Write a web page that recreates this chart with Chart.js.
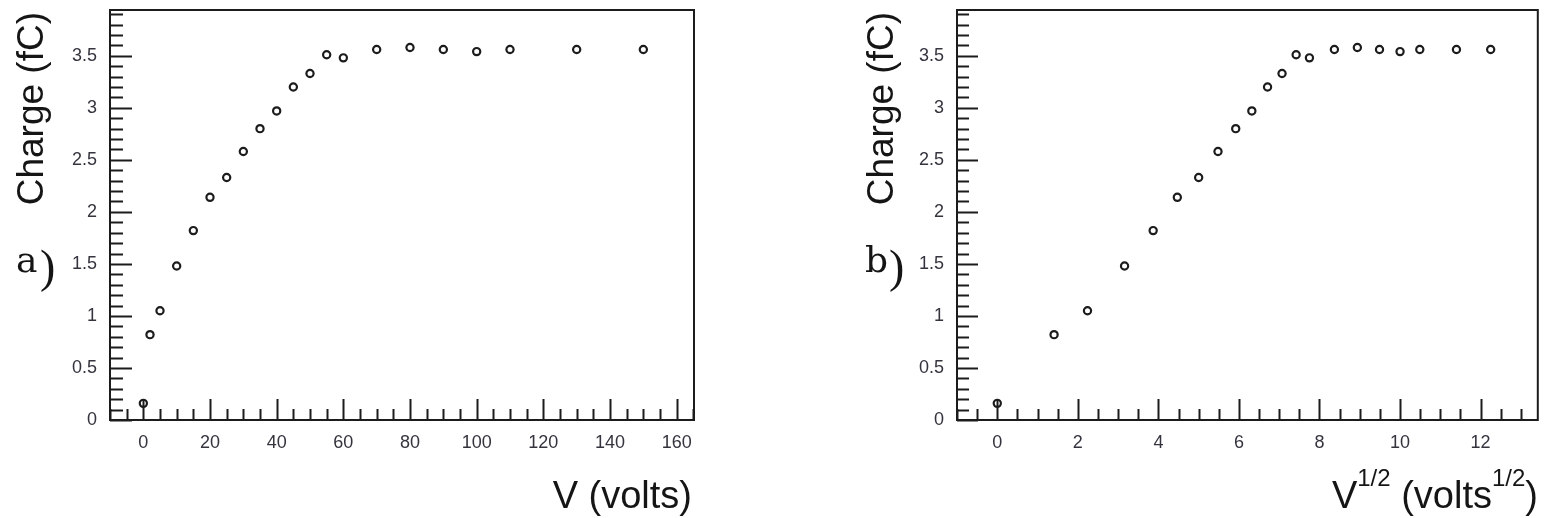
<!DOCTYPE html>
<html>
<head>
<meta charset="utf-8">
<script src="https://cdn.jsdelivr.net/npm/chart.js@4"></script>
<style>
  html, body { margin: 0; padding: 0; background: #fff; }
  #wrap { position: relative; width: 1544px; height: 518px; }
  canvas { position: absolute; top: 0; }
</style>
</head>
<body>
<div id="wrap">
  <canvas id="chartV" width="772" height="518" style="left:0;width:772px;height:518px"></canvas>
  <canvas id="chartSqrtV" width="772" height="518" style="left:772px;width:772px;height:518px"></canvas>
</div>
<script>
// measured points: bias voltage, its square root, collected charge
const voltages = [0, 2, 5, 10, 15, 20, 25, 30, 35, 40, 45, 50, 55, 60, 70, 80, 90, 100, 110, 130, 150]
const sqrtVoltages = [0, 1.41, 2.24, 3.16, 3.87, 4.47, 5.0, 5.48, 5.92, 6.32, 6.71, 7.07, 7.42, 7.75, 8.37, 8.94, 9.49, 10.0, 10.49, 11.40, 12.25]
const charge = [0.16, 0.82, 1.05, 1.48, 1.82, 2.14, 2.33, 2.58, 2.80, 2.97, 3.20, 3.33, 3.51, 3.48, 3.56, 3.58, 3.56, 3.54, 3.56, 3.56, 3.56]

// axis ticks
const chargeTicks = [0, 0.5, 1, 1.5, 2, 2.5, 3, 3.5]
const voltTicks = [0, 20, 40, 60, 80, 100, 120, 140, 160]
const sqrtVoltTicks = [0, 2, 4, 6, 8, 10, 12]

const INK = '#1c1c1c'
const LABEL = '#34343e'
const SANS = '"Liberation Sans", Arial, Helvetica, sans-serif'

// frame box plus inward major/minor ticks, ROOT style
const frameTicks = {
    id: 'frameTicks',
    afterDatasetsDraw(chart, args, opts) {
        const { ctx, chartArea: a, scales } = chart
        const x = scales.x
        const y = scales.y
        ctx.save()
        ctx.strokeStyle = INK
        ctx.lineWidth = 2
        ctx.beginPath()

        const isMajor = (v, list) => list.some((m) => Math.abs(m - v) < 1e-6)

        for (let i = Math.ceil(y.min / opts.yMinor); i * opts.yMinor <= y.max + 1e-9; i++) {
            const v = i * opts.yMinor
            const py = Math.round(y.getPixelForValue(v)) + 0.5
            const len = isMajor(v, chargeTicks) ? opts.yMajorLen : opts.yMinorLen
            ctx.moveTo(a.left, py)
            ctx.lineTo(a.left + len, py)
        }
        for (let i = Math.ceil(x.min / opts.xMinor); i * opts.xMinor <= x.max + 1e-9; i++) {
            const v = i * opts.xMinor
            const px = Math.round(x.getPixelForValue(v)) + 0.5
            const len = isMajor(v, opts.xMajors) ? opts.xMajorLen : opts.xMinorLen
            ctx.moveTo(px, a.bottom)
            ctx.lineTo(px, a.bottom - len)
        }
        ctx.stroke()
        ctx.strokeRect(a.left, a.top, a.right - a.left, a.bottom - a.top)
        ctx.restore()
    }
}

// axis titles and the panel letter
const panelText = {
    id: 'panelText',
    afterDraw(chart, args, opts) {
        const ctx = chart.ctx
        ctx.save()
        ctx.fillStyle = '#151515'

        // y title, rotated, ending at the top of the frame
        ctx.save()
        ctx.translate(opts.yTitleX, 12)
        ctx.rotate(-Math.PI / 2)
        ctx.font = '37px ' + SANS
        ctx.textAlign = 'right'
        ctx.textBaseline = 'alphabetic'
        ctx.fillText('Charge (fC)', 0, 0)
        ctx.restore()

        // x title, right aligned, with optional superscripts
        ctx.textBaseline = 'alphabetic'
        ctx.textAlign = 'left'
        const parts = opts.xTitle
        let total = 0
        parts.forEach((p) => {
            ctx.font = (p.sup ? '24px ' : '38px ') + SANS
            p.w = ctx.measureText(p.text).width
            total += p.w
        })
        let cx = opts.xTitleRight - total
        parts.forEach((p) => {
            ctx.font = (p.sup ? '24px ' : '38px ') + SANS
            ctx.fillText(p.text, cx, p.sup ? 486 : 508)
            cx += p.w
        })

        // panel letter
        ctx.font = '36px "DejaVu Serif", serif'
        ctx.fillText(opts.letter, opts.letterX, 272)
        ctx.font = '46px "Liberation Serif", serif'
        ctx.fillText(')', opts.letterX + 24, 282)
        ctx.restore()
    }
}

const makeChart = (id, xs, xMin, xMax, xTickList, layout, extra) => {
    const ctx = document.getElementById(id).getContext('2d')
    return new Chart(ctx, {
        type: 'scatter',
        data: {
            datasets: [{
                data: xs.map((v, i) => ({ x: v, y: charge[i] })),
                pointStyle: 'circle',
                pointRadius: 3.6,
                pointBorderWidth: 2.2,
                borderColor: INK,
                backgroundColor: 'rgba(0,0,0,0)',
                showLine: false
            }]
        },
        options: {
            responsive: false,
            animation: false,
            events: [],
            layout: { padding: { top: 10, left: 0, bottom: 0, right: layout.right } },
            plugins: {
                legend: { display: false },
                tooltip: { enabled: false },
                frameTicks: extra.ticks,
                panelText: extra.text
            },
            scales: {
                x: {
                    type: 'linear',
                    min: xMin,
                    max: xMax,
                    grid: { display: false, drawTicks: false },
                    border: { display: false },
                    afterBuildTicks: (s) => { s.ticks = xTickList.map((v) => ({ value: v })) },
                    afterFit: (s) => { s.height = 98; s.paddingLeft = 0; s.paddingRight = 0 },
                    ticks: {
                        font: { family: SANS, size: 18 },
                        color: LABEL,
                        padding: 12,
                        maxRotation: 0,
                        autoSkip: false,
                        callback: (v) => String(v)
                    }
                },
                y: {
                    type: 'linear',
                    min: 0,
                    max: 3.94,
                    grid: { display: false, drawTicks: false },
                    border: { display: false },
                    afterBuildTicks: (s) => { s.ticks = chargeTicks.map((v) => ({ value: v })) },
                    afterFit: (s) => { s.width = layout.yWidth; s.paddingTop = 0; s.paddingBottom = 0 },
                    ticks: {
                        font: { family: SANS, size: 18 },
                        color: LABEL,
                        padding: 13,
                        autoSkip: false,
                        callback: (v) => String(v)
                    }
                }
            }
        },
        plugins: [frameTicks, panelText]
    })
}

makeChart('chartV', voltages, -10, 165.2, voltTicks, { right: 78, yWidth: 110 }, {
    ticks: { xMinor: 5, xMajors: voltTicks, yMinor: 0.1, xMajorLen: 21, xMinorLen: 11, yMajorLen: 22, yMinorLen: 13 },
    text: {
        yTitleX: 43,
        xTitleRight: 692,
        xTitle: [{ text: 'V (volts)' }],
        letter: 'a',
        letterX: 16
    }
})

makeChart('chartSqrtV', sqrtVoltages, -1, 13.42, sqrtVoltTicks, { right: 4, yWidth: 185 }, {
    ticks: { xMinor: 0.5, xMajors: sqrtVoltTicks, yMinor: 0.1, xMajorLen: 21, xMinorLen: 11, yMajorLen: 21, yMinorLen: 12 },
    text: {
        yTitleX: 121,
        xTitleRight: 766,
        xTitle: [
            { text: 'V' },
            { text: '1/2', sup: true },
            { text: ' (volts' },
            { text: '1/2', sup: true },
            { text: ')' }
        ],
        letter: 'b',
        letterX: 93
    }
})
</script>
</body>
</html>
